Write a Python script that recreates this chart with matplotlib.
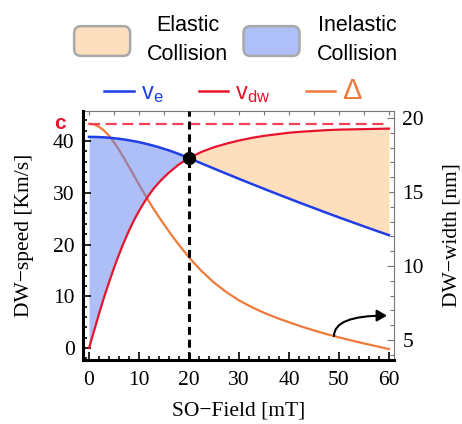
import numpy as np
import matplotlib
matplotlib.use('Agg')
import matplotlib.pyplot as plt
from matplotlib.patches import Patch, FancyBboxPatch
from matplotlib.lines import Line2D
from matplotlib.legend_handler import HandlerPatch

# values
field = [0, 1, 2, 3, 4, 5, 6, 7, 8, 9, 10, 11, 12, 13, 14, 15, 16, 17, 18, 19,
         20, 22.5, 25, 27.5, 30, 32.5, 35, 37.5, 40, 42.5, 45, 47.5, 50, 52.5,
         55, 57.5, 60]
v_e = [40.8, 40.79, 40.76, 40.71, 40.64, 40.54, 40.43, 40.3, 40.14, 39.97,
       39.78, 39.56, 39.32, 39.07, 38.79, 38.49, 38.18, 37.84, 37.48, 37.1,
       36.7, 35.68, 34.67, 33.68, 32.69, 31.72, 30.76, 29.81, 28.88, 27.95,
       27.04, 26.13, 25.24, 24.37, 23.5, 22.64, 21.8]
v_dw = [0, 3.3, 6.6, 9.8, 12.7, 15.5, 18.1, 20.5, 22.7, 24.7, 26.5, 28.1, 29.6,
        30.9, 32.0, 33.0, 33.9, 34.7, 35.5, 36.1, 36.7, 37.9, 38.8, 39.5, 40.1,
        40.6, 41.0, 41.3, 41.6, 41.8, 41.95, 42.1, 42.2, 42.25, 42.3, 42.35, 42.4]
delta = [19.6, 19.57, 19.4, 19.15, 18.8, 18.35, 17.85, 17.28, 16.7, 16.1, 15.5,
         14.92, 14.35, 13.81, 13.3, 12.81, 12.33, 11.87, 11.42, 11.0, 10.58,
         9.66, 8.88, 8.23, 7.68, 7.23, 6.84, 6.5, 6.2, 5.91, 5.65, 5.4, 5.18,
         4.97, 4.77, 4.58, 4.39]
c_speed = 43.3
b_cross = 20
arrow_from = 49
arrow_to = (59.6, 6.65)

blue = '#1f3ee6'
red = '#e8142e'
orange = '#f07a3a'
blue_fill = (0.37, 0.50, 0.95)
peach_fill = '#fddfbe'

serif = 'Liberation Serif'
sans = 'Liberation Sans'

fig = plt.figure(figsize=(4.62, 4.24), dpi=100)
ax = fig.add_axes([0.1797, 0.1509, 0.6731, 0.5873])
ax2 = ax.twinx()

x = np.array(field)
ve = np.array(v_e)
vdw = np.array(v_dw)

# orange width curve on the right axis, drawn under the fills
ax2.plot(x, delta, color=orange, lw=1.6, zorder=1)
ax2.set_ylim(3.65, 20.47)

ax.set_zorder(ax2.get_zorder() + 1)
ax.patch.set_visible(False)

ax.fill_between(x, ve, vdw, where=ve >= vdw, interpolate=True,
                color=blue_fill, alpha=0.5, lw=0, zorder=1)
ax.fill_between(x, ve, vdw, where=vdw >= ve, interpolate=True,
                color=peach_fill, lw=0, zorder=1)
ax.plot(x, ve, color=blue, lw=1.8, zorder=3)
ax.plot(x, vdw, color=red, lw=1.6, zorder=3)
ax.plot([x[0], x[-1]], [c_speed, c_speed], color='#f0405a', lw=1.6,
        dashes=(5, 2.5), zorder=3)
ax.axvline(b_cross, color='black', lw=2.2, dashes=(2.6, 1.6), zorder=4)
ax.plot([b_cross], [np.interp(b_cross, x, ve)], 'o', color='black', ms=8.5,
        zorder=5)

ax.set_xlim(-1.2, 61)
ax.set_ylim(-2.32, 45.8)

# curved arrow pointing to the right axis
ax2.annotate('', xy=arrow_to, xytext=(arrow_from, np.interp(arrow_from, x, delta)),
             arrowprops=dict(arrowstyle='-|>,head_length=0.6,head_width=0.35',
                             color='black', lw=1.5, shrinkA=0, shrinkB=0,
                             connectionstyle='angle3,angleA=90,angleB=0'),
             zorder=6)

ax.set_xticks(np.arange(0, 61, 10))
ax.set_xticks(np.arange(0, 61, 2), minor=True)
ax.set_yticks(np.arange(0, 41, 10))
ax.set_yticks(np.arange(-2, 45, 2), minor=True)
ax2.set_yticks(np.arange(5, 21, 5))
ax2.set_yticks(np.arange(4, 21, 1), minor=True)

for lab in ax.get_xticklabels() + ax.get_yticklabels() + ax2.get_yticklabels():
    lab.set_fontfamily(serif)
    lab.set_fontsize(15.5)

ax.tick_params(which='both', direction='in', top=False, right=False,
               color='black', width=1.2)
ax.tick_params(which='major', length=6)
ax.tick_params(which='minor', length=3)
ax.tick_params(axis='x', pad=8)
ax.tick_params(axis='y', pad=6)
ax2.tick_params(which='both', direction='in', color='#777777', width=0.8, pad=6)
ax2.tick_params(which='major', length=5)
ax2.tick_params(which='minor', length=3)

for s in ['top', 'right']:
    ax.spines[s].set_visible(False)
for s in ['left', 'bottom']:
    ax.spines[s].set_linewidth(2.2)
for s in ['left', 'top', 'bottom']:
    ax2.spines[s].set_visible(False)
ax2.spines['right'].set_color('#777777')
ax2.spines['right'].set_linewidth(0.8)

top = ax.secondary_xaxis('top')
top.set_xticks(np.arange(0, 61, 5))
top.tick_params(direction='in', length=3, color='#777777', width=0.8,
                labeltop=False)
top.spines['top'].set_color('#777777')
top.spines['top'].set_linewidth(0.8)

ax.set_xlabel('SO\u2212Field [mT]', fontfamily=serif, fontsize=15.5, labelpad=8)
ax.set_ylabel('DW\u2212speed [Km/s]', fontfamily=serif, fontsize=15.5, labelpad=14)
ax2.set_ylabel('DW\u2212width [nm]', fontfamily=serif, fontsize=15.5, labelpad=13)

ax.text(-0.074, c_speed, 'c', color=red, fontfamily=sans, fontweight='bold',
        fontsize=15, ha='center', va='center',
        transform=ax.get_yaxis_transform())


class RoundBox(HandlerPatch):
    def create_artists(self, legend, orig_handle, xdescent, ydescent, width,
                       height, fontsize, trans):
        p = FancyBboxPatch((-xdescent, -ydescent), width, height,
                           boxstyle='round,pad=0,rounding_size=5',
                           fc=orig_handle.get_facecolor(), ec='#a8a8a8', lw=1.8,
                           transform=trans)
        return [p]


leg1 = fig.legend([Patch(fc=peach_fill), Patch(fc=(0.686, 0.749, 0.973))],
                  ['Elastic\nCollision', 'Inelastic\nCollision'],
                  handler_map={Patch: RoundBox()}, ncol=2, frameon=False,
                  loc='center', bbox_to_anchor=(236 / 462, 1 - 40 / 424),
                  prop={'family': sans, 'size': 15.5}, handlelength=2.6,
                  handleheight=1.75, handletextpad=0.8, columnspacing=0.7)
for t in leg1.get_texts():
    t.set_multialignment('center')
    t.set_linespacing(1.5)

handles = [Line2D([], [], color=blue, lw=1.8), Line2D([], [], color=red, lw=1.8),
           Line2D([], [], color=orange, lw=1.8)]
leg2 = fig.legend(handles, [r'$\mathregular{v_e}$', r'$\mathregular{v_{dw}}$', '\u0394'],
                  ncol=3, frameon=False, loc='center',
                  bbox_to_anchor=(233 / 462, 1 - 91 / 424),
                  prop={'family': sans, 'size': 17}, handlelength=1.25,
                  handletextpad=0.3, columnspacing=1.5)
for t, col in zip(leg2.get_texts(), [blue, red, orange]):
    t.set_color(col)
leg2.get_texts()[2].set_fontsize(21)

fig.savefig('out.png', dpi=100)
